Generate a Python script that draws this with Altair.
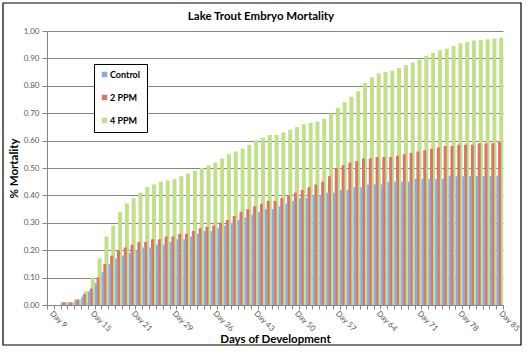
import altair as alt
import pandas as pd

days = ["Day 9", "Day 10", "Day 11", "Day 12", "Day 13", "Day 14",
        "Day 15", "Day 16", "Day 17", "Day 18", "Day 19", "Day 20",
        "Day 21", "Day 22", "Day 23", "Day 24", "Day 27", "Day 28",
        "Day 29", "Day 30", "Day 31", "Day 32", "Day 34", "Day 35",
        "Day 36", "Day 37", "Day 38", "Day 39", "Day 41", "Day 42",
        "Day 43", "Day 44", "Day 45", "Day 46", "Day 48", "Day 49",
        "Day 50", "Day 51", "Day 52", "Day 53", "Day 55", "Day 56",
        "Day 57", "Day 58", "Day 59", "Day 60", "Day 62", "Day 63",
        "Day 64", "Day 65", "Day 66", "Day 67", "Day 69", "Day 70",
        "Day 71", "Day 72", "Day 73", "Day 74", "Day 76", "Day 77",
        "Day 78", "Day 79", "Day 80", "Day 81", "Day 83", "Day 84",
        "Day 85"]

labelled_days = ["Day 9", "Day 15", "Day 21", "Day 29", "Day 36", "Day 43",
                 "Day 50", "Day 57", "Day 64", "Day 71", "Day 78", "Day 85"]

control = [0.00, 0.00, 0.01, 0.01, 0.02, 0.03, 0.05, 0.08, 0.12, 0.15, 0.17, 0.18,
           0.19, 0.20, 0.21, 0.21, 0.22, 0.22, 0.23, 0.24, 0.24, 0.25, 0.26, 0.27,
           0.27, 0.28, 0.29, 0.30, 0.31, 0.32, 0.33, 0.34, 0.35, 0.35, 0.36, 0.37,
           0.38, 0.39, 0.39, 0.40, 0.40, 0.41, 0.41, 0.42, 0.42, 0.43, 0.43, 0.44,
           0.44, 0.44, 0.45, 0.45, 0.45, 0.45, 0.46, 0.46, 0.46, 0.46, 0.46, 0.47,
           0.47, 0.47, 0.47, 0.47, 0.47, 0.47, 0.47]

ppm2 = [0.00, 0.00, 0.01, 0.01, 0.02, 0.04, 0.06, 0.10, 0.15, 0.18, 0.20, 0.21,
        0.22, 0.23, 0.23, 0.24, 0.24, 0.25, 0.25, 0.26, 0.26, 0.27, 0.28, 0.285,
        0.29, 0.30, 0.31, 0.325, 0.34, 0.35, 0.36, 0.37, 0.38, 0.38, 0.39, 0.40,
        0.41, 0.42, 0.43, 0.44, 0.45, 0.47, 0.50, 0.51, 0.52, 0.525, 0.535, 0.535,
        0.54, 0.54, 0.54, 0.545, 0.55, 0.555, 0.56, 0.565, 0.57, 0.575, 0.58, 0.58,
        0.585, 0.585, 0.585, 0.59, 0.59, 0.59, 0.595]

ppm4 = [0.00, 0.00, 0.01, 0.01, 0.02, 0.05, 0.10, 0.17, 0.25, 0.29, 0.34, 0.37,
        0.39, 0.41, 0.43, 0.44, 0.45, 0.455, 0.46, 0.47, 0.48, 0.49, 0.50, 0.51,
        0.52, 0.535, 0.55, 0.56, 0.57, 0.585, 0.60, 0.61, 0.62, 0.62, 0.63, 0.64,
        0.65, 0.66, 0.665, 0.67, 0.68, 0.70, 0.72, 0.74, 0.76, 0.78, 0.81, 0.83,
        0.845, 0.85, 0.855, 0.865, 0.875, 0.885, 0.895, 0.91, 0.92, 0.93, 0.935, 0.945,
        0.955, 0.96, 0.965, 0.967, 0.97, 0.972, 0.975]

series_names = ["Control", "2 PPM", "4 PPM"]
series_colors = ["#93a8d4", "#d8766b", "#c2df8c"]
y_ticks = [0.0, 0.1, 0.2, 0.3, 0.4, 0.5, 0.6, 0.7, 0.8, 0.9, 1.0]

rows = []
for name, vals in zip(series_names, [control, ppm2, ppm4]):
    for d, v in zip(days, vals):
        rows.append({"day": d, "series": name, "value": v})
df = pd.DataFrame(rows)

FONT = "Lato"
GRAY = "#868686"
label_list = ",".join("'" + d + "'" for d in labelled_days)
label_expr = "indexof([" + label_list + "], datum.value) >= 0 ? datum.label : ''"

x = alt.X(
    "day:N", sort=days,
    scale=alt.Scale(paddingInner=0, paddingOuter=0),
    title="Days of Development",
    axis=alt.Axis(
        labelExpr=label_expr, labelAngle=45, labelAlign="left", labelBaseline="middle",
        labelFontSize=8, labelColor="#595959", labelPadding=3, labelOverlap=False,
        tickBand="extent", tickSize=4, tickColor=GRAY, domainColor=GRAY,
        titleFontSize=11.5, titleFontWeight="bold", titleColor="black", titlePadding=1,
        grid=False,
    ),
)
y = alt.Y(
    "value:Q",
    scale=alt.Scale(domain=[0, 1], nice=False),
    title="% Mortality",
    axis=alt.Axis(
        values=y_ticks, format=".2f", labelFontSize=8, labelColor="#595959",
        tickSize=5, tickColor=GRAY, domainColor=GRAY, labelPadding=3,
        grid=True, gridColor=GRAY, gridWidth=1,
        titleFontSize=11.5, titleFontWeight="bold", titleColor="black", titlePadding=4,
    ),
)
color = alt.Color(
    "series:N",
    scale=alt.Scale(domain=series_names, range=series_colors),
    legend=alt.Legend(
        title=None, orient="none", legendX=47, legendY=33,
        strokeColor="black", fillColor="white", padding=6,
        symbolType="square", symbolSize=30, symbolStrokeWidth=0,
        labelFont=FONT, labelFontWeight="bold", labelFontSize=9, labelColor="black",
        rowPadding=13, labelOffset=1,
    ),
)

base = alt.Chart(df).encode(x=x, y=y, color=color)
green = base.transform_filter(alt.datum.series == "4 PPM").mark_bar(width=4, xOffset=1.6)
red = base.transform_filter(alt.datum.series == "2 PPM").mark_bar(width=3, xOffset=0)
blue = base.transform_filter(alt.datum.series == "Control").mark_bar(width=2.6, xOffset=-1.9)

border = alt.Chart(pd.DataFrame({"a": [0]})).mark_rect(
    fillOpacity=0, stroke="black", strokeWidth=1.2
).encode(x=alt.value(-44), x2=alt.value(474), y=alt.value(-28), y2=alt.value(314))

chart = alt.layer(green, red, blue, border).properties(
    width=456, height=274,
    autosize=alt.AutoSizeParams(type="none"),
    padding={"left": 47, "top": 31, "right": 24, "bottom": 48},
    title=alt.TitleParams(
        "Lake Trout Embryo Mortality", font=FONT, fontSize=11.5, fontWeight="bold",
        color="black", offset=-20, dx=-14, anchor="middle",
    ),
).configure_axis(
    labelFont=FONT, titleFont=FONT,
).configure_view(stroke=None)

chart.save("out.html", embed_options={"renderer": "svg", "actions": False})
